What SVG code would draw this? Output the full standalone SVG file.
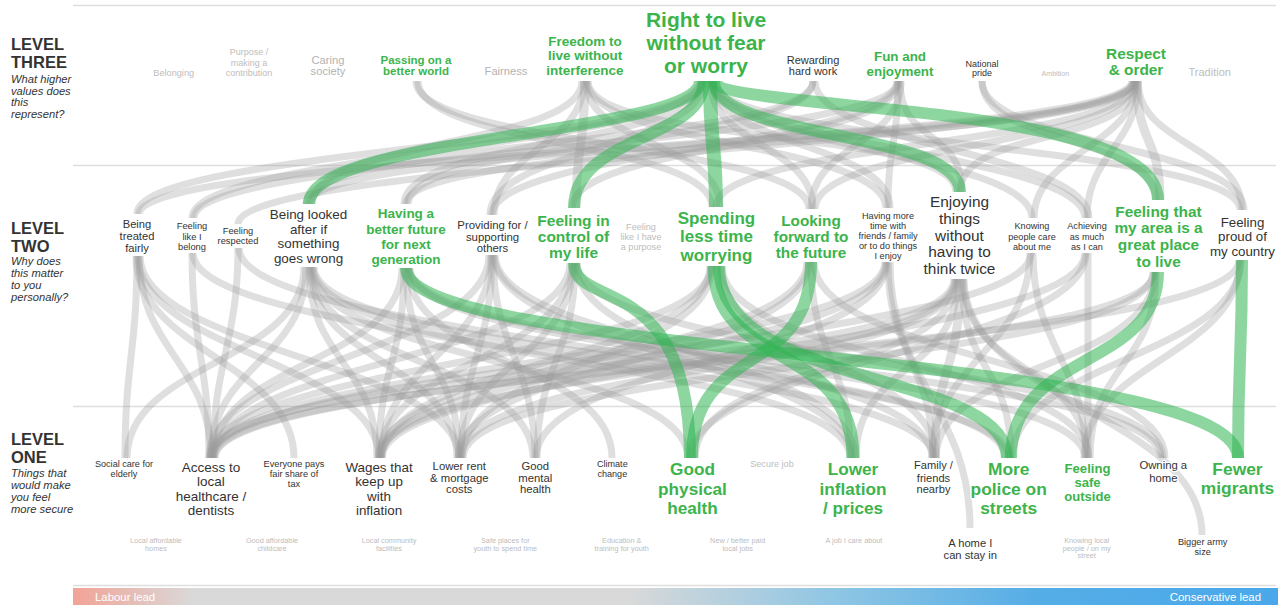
<svg xmlns="http://www.w3.org/2000/svg" width="1286" height="606" viewBox="0 0 1286 606">
  <style>
    text { font-family: "Liberation Sans", Arial, Helvetica, sans-serif; text-anchor: middle; fill: #333; }
    .node text { stroke: #fff; stroke-width: 2.5; stroke-linejoin: round; paint-order: stroke; }
    .hd { text-anchor: start; font-weight: bold; font-size: 16.5px; fill: #333; }
    .sub { text-anchor: start; font-style: italic; font-size: 11.2px; fill: #333; }
    .key text { fill: #3cb44b; font-weight: bold; }
    .faint text { fill: #bdbdbd; }
    .mid text { fill: #b3b3b3; }
    .rule { stroke: #dedede; stroke-width: 1.5; fill: none; }
    .g { fill: none; stroke: #9a9a9a; stroke-opacity: 0.32; stroke-width: 7; }
    .gw { stroke-width: 9; }
    .gr { fill: none; stroke: #2fb552; stroke-opacity: 0.55; stroke-width: 12; }
    .bar { font-size: 11.4px; fill: #fff; }
  </style>
  <defs>
    <linearGradient id="leadGrad" gradientUnits="userSpaceOnUse" x1="73" y1="0" x2="1278" y2="0">
      <stop offset="0" stop-color="#f2a396"/>
      <stop offset="0.1" stop-color="#d9d9d9"/>
      <stop offset="0.46" stop-color="#d9d9d9"/>
      <stop offset="0.63" stop-color="#8fc6e4"/>
      <stop offset="0.8" stop-color="#55ade6"/>
      <stop offset="1" stop-color="#4aa8ea"/>
    </linearGradient>
  </defs>

  <rect width="1286" height="606" fill="#fff"/>

  <!-- band separators -->
  <g id="rules">
    <line class="rule" x1="73" y1="5.5" x2="1276" y2="5.5"/>
    <line class="rule" x1="73" y1="165.5" x2="1276" y2="165.5"/>
    <line class="rule" x1="73" y1="406.5" x2="1276" y2="406.5"/>
    <line class="rule" x1="73" y1="585.5" x2="1276" y2="585.5"/>
  </g>

  <!-- row headings -->
  <g id="level-three-heading">
    <text class="hd" x="11" y="50">LEVEL</text>
    <text class="hd" x="11" y="68.3">THREE</text>
    <text class="sub" x="11" y="82.7">What higher</text>
    <text class="sub" x="11" y="94.5">values does</text>
    <text class="sub" x="11" y="106.2">this</text>
    <text class="sub" x="11" y="117.9">represent?</text>
  </g>
  <g id="level-two-heading">
    <text class="hd" x="11" y="234.3">LEVEL</text>
    <text class="hd" x="11" y="251.7">TWO</text>
    <text class="sub" x="11" y="265.3">Why does</text>
    <text class="sub" x="11" y="277.3">this matter</text>
    <text class="sub" x="11" y="289.3">to you</text>
    <text class="sub" x="11" y="301.3">personally?</text>
  </g>
  <g id="level-one-heading">
    <text class="hd" x="11" y="445">LEVEL</text>
    <text class="hd" x="11" y="463.3">ONE</text>
    <text class="sub" x="11" y="476.7">Things that</text>
    <text class="sub" x="11" y="488.7">would make</text>
    <text class="sub" x="11" y="500.9">you feel</text>
    <text class="sub" x="11" y="513">more secure</text>
  </g>

  <!-- links -->
  <g id="connectors">
    <!-- level three to level two -->
    <path class="g" d="M416,81 C416,146 809,144 809,209"/>
    <path class="g" d="M418,81 C418,146 712,142 712,207"/>
    <path class="g" d="M582,81 C582,146 312,139 312,204"/>
    <path class="g" d="M584,81 C584,146 494,150 494,215"/>
    <path class="g gw" d="M585,81 C585,146 576,143 576,208"/>
    <path class="g" d="M587,81 C587,146 886,143 886,208"/>
    <path class="g" d="M588,81 C588,146 956,127 956,192"/>
    <path class="g" d="M586,81 C586,146 720,142 720,207"/>
    <path class="g" d="M700,81 C700,146 137,149 137,214"/>
    <path class="g" d="M701,81 C701,146 192,153 192,218"/>
    <path class="g" d="M702,81 C702,146 404,139 404,204"/>
    <path class="g" d="M704,81 C704,146 490,150 490,215"/>
    <path class="g" d="M710,81 C710,146 813,144 813,209"/>
    <path class="g" d="M712,81 C712,146 890,143 890,208"/>
    <path class="g" d="M712,81 C712,146 1032,153 1032,218"/>
    <path class="g" d="M713,81 C713,146 1085,153 1085,218"/>
    <path class="g" d="M714,81 C714,146 1240,145 1240,210"/>
    <path class="g" d="M813,81 C813,146 306,139 306,204"/>
    <path class="g" d="M813,81 C813,146 408,139 408,204"/>
    <path class="g" d="M815,81 C815,146 1089,153 1089,218"/>
    <path class="g" d="M898,81 C898,146 888,143 888,208"/>
    <path class="g" d="M900,81 C900,146 962,127 962,192"/>
    <path class="g" d="M899,81 C899,146 572,143 572,208"/>
    <path class="g" d="M897,81 C897,146 492,150 492,215"/>
    <path class="g" d="M901,81 C901,146 811,144 811,209"/>
    <path class="g" d="M898,81 C898,146 194,153 194,218"/>
    <path class="g" d="M982,81 C982,146 1244,145 1244,210"/>
    <path class="g" d="M982,81 C982,146 1156,135 1156,200"/>
    <path class="g" d="M1132,81 C1132,146 139,149 139,214"/>
    <path class="g" d="M1133,81 C1133,146 238,159 238,224"/>
    <path class="g" d="M1134,81 C1134,146 309,139 309,204"/>
    <path class="g" d="M1134,81 C1134,146 406,139 406,204"/>
    <path class="g" d="M1135,81 C1135,146 716,142 716,207"/>
    <path class="g" d="M1135,81 C1135,146 815,144 815,209"/>
    <path class="g" d="M1136,81 C1136,146 960,127 960,192"/>
    <path class="g" d="M1136,81 C1136,146 1034,153 1034,218"/>
    <path class="g gw" d="M1137,81 C1137,146 1160,135 1160,200"/>
    <path class="g" d="M1138,81 C1138,146 1242,145 1242,210"/>
    <path class="g" d="M1138,81 C1138,146 1087,153 1087,218"/>

    <!-- level two to level one -->
    <path class="g" d="M137,256 C137,351 125,363 125,458"/>
    <path class="g" d="M139,256 C139,351 211,363 211,458"/>
    <path class="g" d="M136,256 C136,351 294,363 294,458"/>
    <path class="g" d="M138,256 C138,351 379,363 379,458"/>
    <path class="g" d="M140,256 C140,351 459,363 459,458"/>
    <path class="g" d="M192,253 C192,348 209,363 209,458"/>
    <path class="g" d="M193,253 C193,348 934,363 934,458"/>
    <path class="g" d="M238,248 C238,343 213,363 213,458"/>
    <path class="g" d="M239,248 C239,343 1009,363 1009,458"/>
    <path class="g" d="M304,267 C304,362 127,363 127,458"/>
    <path class="g" d="M306,267 C306,362 211,363 211,458"/>
    <path class="g" d="M309,267 C309,362 377,363 377,458"/>
    <path class="g" d="M310,267 C310,362 457,363 457,458"/>
    <path class="g" d="M311,267 C311,362 533,363 533,458"/>
    <path class="g" d="M312,267 C312,362 688,363 688,458"/>
    <path class="g" d="M313,267 C313,362 850,363 850,458"/>
    <path class="g" d="M314,267 C314,362 1005,363 1005,458"/>
    <path class="g" d="M402,268 C402,363 213,363 213,458"/>
    <path class="g" d="M404,268 C404,363 379,363 379,458"/>
    <path class="g" d="M406,268 C406,363 459,363 459,458"/>
    <path class="g" d="M408,268 C408,363 612,363 612,458"/>
    <path class="g" d="M410,268 C410,363 1161,363 1161,458"/>
    <path class="g" d="M409,268 C409,363 1085,363 1085,458"/>
    <path class="g" d="M489,255 C489,350 209,363 209,458"/>
    <path class="g" d="M491,255 C491,350 381,363 381,458"/>
    <path class="g" d="M492,255 C492,350 461,363 461,458"/>
    <path class="g" d="M493,255 C493,350 535,363 535,458"/>
    <path class="g" d="M494,255 C494,350 852,363 852,458"/>
    <path class="g" d="M495,255 C495,350 932,363 932,458"/>
    <path class="g" d="M570,263 C570,358 214,363 214,458"/>
    <path class="g" d="M572,263 C572,358 380,363 380,458"/>
    <path class="g" d="M573,263 C573,358 460,363 460,458"/>
    <path class="g" d="M575,263 C575,358 537,363 537,458"/>
    <path class="g" d="M576,263 C576,358 855,363 855,458"/>
    <path class="g" d="M577,263 C577,358 1163,363 1163,458"/>
    <path class="g" d="M710,266 C710,361 382,363 382,458"/>
    <path class="g" d="M712,266 C712,361 462,363 462,458"/>
    <path class="g" d="M711,266 C711,361 210,363 210,458"/>
    <path class="g" d="M720,266 C720,361 936,363 936,458"/>
    <path class="g" d="M722,266 C722,361 1089,363 1089,458"/>
    <path class="g" d="M807,262 C807,357 378,363 378,458"/>
    <path class="g" d="M811,262 C811,357 851,363 851,458"/>
    <path class="g" d="M814,262 C814,357 1165,363 1165,458"/>
    <path class="g" d="M809,262 C809,357 458,363 458,458"/>
    <path class="g" d="M888,262 C888,357 933,363 933,458"/>
    <path class="g" d="M886,262 C886,357 381,363 381,458"/>
    <path class="g" d="M885,262 C885,357 212,363 212,458"/>
    <path class="g" d="M887,262 C887,357 536,363 536,458"/>
    <path class="g" d="M890,262 C890,380 970,410 970,528"/>
    <path class="g" d="M955,279 C955,374 380,363 380,458"/>
    <path class="g" d="M956,279 C956,374 461,363 461,458"/>
    <path class="g" d="M958,279 C958,374 856,363 856,458"/>
    <path class="g" d="M957,279 C957,374 695,363 695,458"/>
    <path class="g gw" d="M960,279 C960,374 935,363 935,458"/>
    <path class="g" d="M962,279 C962,374 1011,363 1011,458"/>
    <path class="g" d="M963,279 C963,374 1087,363 1087,458"/>
    <path class="g" d="M954,279 C954,374 210,363 210,458"/>
    <path class="g" d="M964,279 C964,400 1202,415 1202,535"/>
    <path class="g" d="M1030,253 C1030,348 932,363 932,458"/>
    <path class="g" d="M1033,253 C1033,348 1086,363 1086,458"/>
    <path class="g" d="M1031,253 C1031,348 212,363 212,458"/>
    <path class="g" d="M1085,253 C1085,348 382,363 382,458"/>
    <path class="g" d="M1086,253 C1086,348 690,363 690,458"/>
    <path class="g" d="M1088,253 C1088,348 1088,363 1088,458"/>
    <path class="g" d="M1156,272 C1156,367 1090,363 1090,458"/>
    <path class="g" d="M1154,272 C1154,367 214,363 214,458"/>
    <path class="g" d="M1155,272 C1155,367 936,363 936,458"/>
    <path class="g" d="M1153,272 C1153,367 463,363 463,458"/>
    <path class="g" d="M1240,260 C1240,355 1084,363 1084,458"/>
    <path class="g" d="M1241,260 C1241,355 1012,363 1012,458"/>
    <path class="g" d="M1239,260 C1239,355 215,363 215,458"/>

    <!-- highlighted paths -->
    <path class="gr" d="M700,81 C700,135 309,135 309,204"/>
    <path class="gr" d="M704,81 C704,140 574,135 574,208"/>
    <path class="gr" style="stroke-width:14" d="M710,81 C710,140 716,150 716,207"/>
    <path class="gr" d="M714,81 C714,140 960,130 960,192"/>
    <path class="gr" d="M716,81 C716,112 1158,100 1158,200"/>

    <path class="gr" d="M406,268 C406,360 1238,350 1238,458"/>
    <path class="gr" d="M574,263 C574,310 690,270 690,458"/>
    <path class="gr" d="M811,262 C811,380 692,340 692,458"/>
    <path class="gr" style="stroke-width:13" d="M714,266 C714,370 853,340 853,458"/>
    <path class="gr" d="M719,266 C719,390 1007,370 1007,458"/>
    <path class="gr" d="M1158,272 C1158,370 1011,350 1011,458"/>
    <path class="gr" d="M1242,260 C1242,360 1238,360 1238,458"/>
  </g>

  <!-- level three values -->
  <g id="belonging" class="node faint"><text x="173.7" y="76" font-size="9.2">Belonging</text></g>
  <g id="purpose" class="node faint"><text font-size="9"><tspan x="249" y="55.3">Purpose /</tspan><tspan x="249" y="65.5">making a</tspan><tspan x="249" y="76">contribution</tspan></text></g>
  <g id="caring-society" class="node mid"><text font-size="11.2"><tspan x="328" y="64">Caring</tspan><tspan x="328" y="75.3">society</tspan></text></g>
  <g id="passing-on" class="node key"><text font-size="11.5"><tspan x="416" y="63.7">Passing on a</tspan><tspan x="416" y="75">better world</tspan></text></g>
  <g id="fairness" class="node mid"><text x="506" y="75.3" font-size="11.2">Fairness</text></g>
  <g id="freedom" class="node key"><text font-size="13.5"><tspan x="585" y="45.7">Freedom to</tspan><tspan x="585" y="60.3">live without</tspan><tspan x="585" y="75">interference</tspan></text></g>
  <g id="right-to-live" class="node key"><text font-size="21"><tspan x="706" y="26.7">Right to live</tspan><tspan x="706" y="50">without fear</tspan><tspan x="706" y="73.3">or worry</tspan></text></g>
  <g id="rewarding-work" class="node"><text font-size="11"><tspan x="813" y="64">Rewarding</tspan><tspan x="813" y="75.3">hard work</tspan></text></g>
  <g id="fun" class="node key"><text font-size="13.4"><tspan x="900" y="60.7">Fun and</tspan><tspan x="900" y="75.5">enjoyment</tspan></text></g>
  <g id="national-pride" class="node"><text font-size="9"><tspan x="982" y="66.5">National</tspan><tspan x="982" y="76">pride</tspan></text></g>
  <g id="ambition" class="node faint"><text x="1055.3" y="76.3" font-size="7.1">Ambition</text></g>
  <g id="respect-order" class="node key"><text font-size="15.4"><tspan x="1136" y="58.7">Respect</tspan><tspan x="1136" y="75.3">&amp; order</tspan></text></g>
  <g id="tradition" class="node faint"><text x="1209.7" y="75.7" font-size="11">Tradition</text></g>

  <!-- level two reasons -->
  <g id="treated-fairly" class="node"><text font-size="11.2"><tspan x="137" y="228.3">Being</tspan><tspan x="137" y="240">treated</tspan><tspan x="137" y="251.7">fairly</tspan></text></g>
  <g id="belong" class="node"><text font-size="9.3"><tspan x="192" y="229.3">Feeling</tspan><tspan x="192" y="239.6">like I</tspan><tspan x="192" y="250">belong</tspan></text></g>
  <g id="respected" class="node"><text font-size="9.3"><tspan x="238" y="234">Feeling</tspan><tspan x="238" y="244">respected</tspan></text></g>
  <g id="looked-after" class="node"><text font-size="13.4"><tspan x="308.5" y="219">Being looked</tspan><tspan x="308.5" y="233.5">after if</tspan><tspan x="308.5" y="248">something</tspan><tspan x="308.5" y="262.5">goes wrong</tspan></text></g>
  <g id="better-future" class="node key"><text font-size="13.5"><tspan x="406" y="218.3">Having a</tspan><tspan x="406" y="233.7">better future</tspan><tspan x="406" y="249">for next</tspan><tspan x="406" y="264.3">generation</tspan></text></g>
  <g id="providing" class="node"><text font-size="11.4"><tspan x="492.5" y="229">Providing for /</tspan><tspan x="492.5" y="240.5">supporting</tspan><tspan x="492.5" y="252">others</tspan></text></g>
  <g id="in-control" class="node key"><text font-size="15.5"><tspan x="573.5" y="225.5">Feeling in</tspan><tspan x="573.5" y="242">control of</tspan><tspan x="573.5" y="258.3">my life</tspan></text></g>
  <g id="purpose-feeling" class="node faint"><text font-size="9.1"><tspan x="641" y="230.3">Feeling</tspan><tspan x="641" y="240.3">like I have</tspan><tspan x="641" y="250.3">a purpose</tspan></text></g>
  <g id="less-worrying" class="node key"><text font-size="17"><tspan x="716.5" y="224">Spending</tspan><tspan x="716.5" y="242.3">less time</tspan><tspan x="716.5" y="260.6">worrying</tspan></text></g>
  <g id="looking-forward" class="node key"><text font-size="15.3"><tspan x="811" y="225.7">Looking</tspan><tspan x="811" y="241.7">forward to</tspan><tspan x="811" y="257.6">the future</tspan></text></g>
  <g id="more-time" class="node"><text font-size="9.2"><tspan x="888" y="219.3">Having more</tspan><tspan x="888" y="229.3">time with</tspan><tspan x="888" y="239.3">friends / family</tspan><tspan x="888" y="249.3">or to do things</tspan><tspan x="888" y="259.3">I enjoy</tspan></text></g>
  <g id="enjoying-things" class="node"><text font-size="15.4"><tspan x="959.5" y="207.3">Enjoying</tspan><tspan x="959.5" y="224">things</tspan><tspan x="959.5" y="240.7">without</tspan><tspan x="959.5" y="257.3">having to</tspan><tspan x="959.5" y="274">think twice</tspan></text></g>
  <g id="people-care" class="node"><text font-size="9.1"><tspan x="1032" y="229.3">Knowing</tspan><tspan x="1032" y="239.6">people care</tspan><tspan x="1032" y="250">about me</tspan></text></g>
  <g id="achieving" class="node"><text font-size="9.1"><tspan x="1087" y="229.3">Achieving</tspan><tspan x="1087" y="239.6">as much</tspan><tspan x="1087" y="250">as I can</tspan></text></g>
  <g id="great-area" class="node key"><text font-size="15.4"><tspan x="1158.5" y="216.7">Feeling that</tspan><tspan x="1158.5" y="233.3">my area is a</tspan><tspan x="1158.5" y="250">great place</tspan><tspan x="1158.5" y="266.7">to live</tspan></text></g>
  <g id="proud-country" class="node"><text font-size="13.3"><tspan x="1242.5" y="226.7">Feeling</tspan><tspan x="1242.5" y="241.3">proud of</tspan><tspan x="1242.5" y="256">my country</tspan></text></g>

  <!-- level one needs -->
  <g id="social-care" class="node"><text font-size="9.1"><tspan x="124" y="467.3">Social care for</tspan><tspan x="124" y="477">elderly</tspan></text></g>
  <g id="healthcare" class="node"><text font-size="13.5"><tspan x="211" y="471.7">Access to</tspan><tspan x="211" y="486.2">local</tspan><tspan x="211" y="500.7">healthcare /</tspan><tspan x="211" y="515.2">dentists</tspan></text></g>
  <g id="fair-tax" class="node"><text font-size="9.2"><tspan x="294" y="467.3">Everyone pays</tspan><tspan x="294" y="477.3">fair share of</tspan><tspan x="294" y="487.3">tax</tspan></text></g>
  <g id="wages" class="node"><text font-size="13.4"><tspan x="379" y="471.7">Wages that</tspan><tspan x="379" y="486.2">keep up</tspan><tspan x="379" y="500.7">with</tspan><tspan x="379" y="515.2">inflation</tspan></text></g>
  <g id="lower-rent" class="node"><text font-size="11.3"><tspan x="459.3" y="470">Lower rent</tspan><tspan x="459.3" y="481.7">&amp; mortgage</tspan><tspan x="459.3" y="493.4">costs</tspan></text></g>
  <g id="mental-health" class="node"><text font-size="11.3"><tspan x="535.3" y="470">Good</tspan><tspan x="535.3" y="481.7">mental</tspan><tspan x="535.3" y="493.4">health</tspan></text></g>
  <g id="climate" class="node"><text font-size="9.1"><tspan x="612.3" y="467.3">Climate</tspan><tspan x="612.3" y="476.8">change</tspan></text></g>
  <g id="physical-health" class="node key"><text font-size="17.2"><tspan x="692.5" y="475">Good</tspan><tspan x="692.5" y="494.7">physical</tspan><tspan x="692.5" y="514.3">health</tspan></text></g>
  <g id="secure-job" class="node faint"><text x="772" y="467.3" font-size="9.1">Secure job</text></g>
  <g id="lower-inflation" class="node key"><text font-size="17.2"><tspan x="853" y="475">Lower</tspan><tspan x="853" y="494.7">inflation</tspan><tspan x="853" y="514.3">/ prices</tspan></text></g>
  <g id="family-nearby" class="node"><text font-size="11.1"><tspan x="933.5" y="469.3">Family /</tspan><tspan x="933.5" y="481.5">friends</tspan><tspan x="933.5" y="493.4">nearby</tspan></text></g>
  <g id="more-police" class="node key"><text font-size="17.4"><tspan x="1008.7" y="475">More</tspan><tspan x="1008.7" y="494.7">police on</tspan><tspan x="1008.7" y="514.3">streets</tspan></text></g>
  <g id="safe-outside" class="node key"><text font-size="13.1"><tspan x="1087.5" y="472.5">Feeling</tspan><tspan x="1087.5" y="486.5">safe</tspan><tspan x="1087.5" y="500.5">outside</tspan></text></g>
  <g id="owning-home" class="node"><text font-size="11.3"><tspan x="1163.3" y="469.3">Owning a</tspan><tspan x="1163.3" y="481.7">home</tspan></text></g>
  <g id="fewer-migrants" class="node key"><text font-size="17.4"><tspan x="1237.5" y="475">Fewer</tspan><tspan x="1237.5" y="494.3">migrants</tspan></text></g>

  <g id="affordable-homes" class="node faint"><text font-size="7.3" fill="#c8c8c8"><tspan x="156" y="543">Local affordable</tspan><tspan x="156" y="550.5">homes</tspan></text></g>
  <g id="childcare" class="node faint"><text font-size="7.3"><tspan x="272" y="543">Good affordable</tspan><tspan x="272" y="550.5">childcare</tspan></text></g>
  <g id="community" class="node faint"><text font-size="7.3"><tspan x="389" y="543">Local community</tspan><tspan x="389" y="550.5">facilities</tspan></text></g>
  <g id="youth-places" class="node faint"><text font-size="7.3"><tspan x="505.3" y="543">Safe places for</tspan><tspan x="505.3" y="550.5">youth to spend time</tspan></text></g>
  <g id="youth-training" class="node faint"><text font-size="7.3"><tspan x="621.7" y="543">Education &amp;</tspan><tspan x="621.7" y="550.5">training for youth</tspan></text></g>
  <g id="local-jobs" class="node faint"><text font-size="7.3"><tspan x="737.7" y="543">New / better paid</tspan><tspan x="737.7" y="550.5">local jobs</tspan></text></g>
  <g id="job-care" class="node faint"><text x="854" y="543" font-size="7.3">A job I care about</text></g>
  <g id="home-stay" class="node"><text font-size="11.2"><tspan x="970.3" y="546.7">A home I</tspan><tspan x="970.3" y="559">can stay in</tspan></text></g>
  <g id="local-people" class="node faint"><text font-size="7.3"><tspan x="1086.7" y="543.3">Knowing local</tspan><tspan x="1086.7" y="550.6">people / on my</tspan><tspan x="1086.7" y="557.9">street</tspan></text></g>
  <g id="army-size" class="node"><text font-size="9.2"><tspan x="1202.7" y="545">Bigger army</tspan><tspan x="1202.7" y="555">size</tspan></text></g>

  <!-- party lead scale -->
  <g id="lead-scale">
    <rect x="73" y="588" width="1205" height="17" fill="url(#leadGrad)"/>
    <text class="bar" x="95" y="600.5" style="text-anchor:start">Labour lead</text>
    <text class="bar" x="1261" y="600.5" style="text-anchor:end">Conservative lead</text>
  </g>
</svg>
